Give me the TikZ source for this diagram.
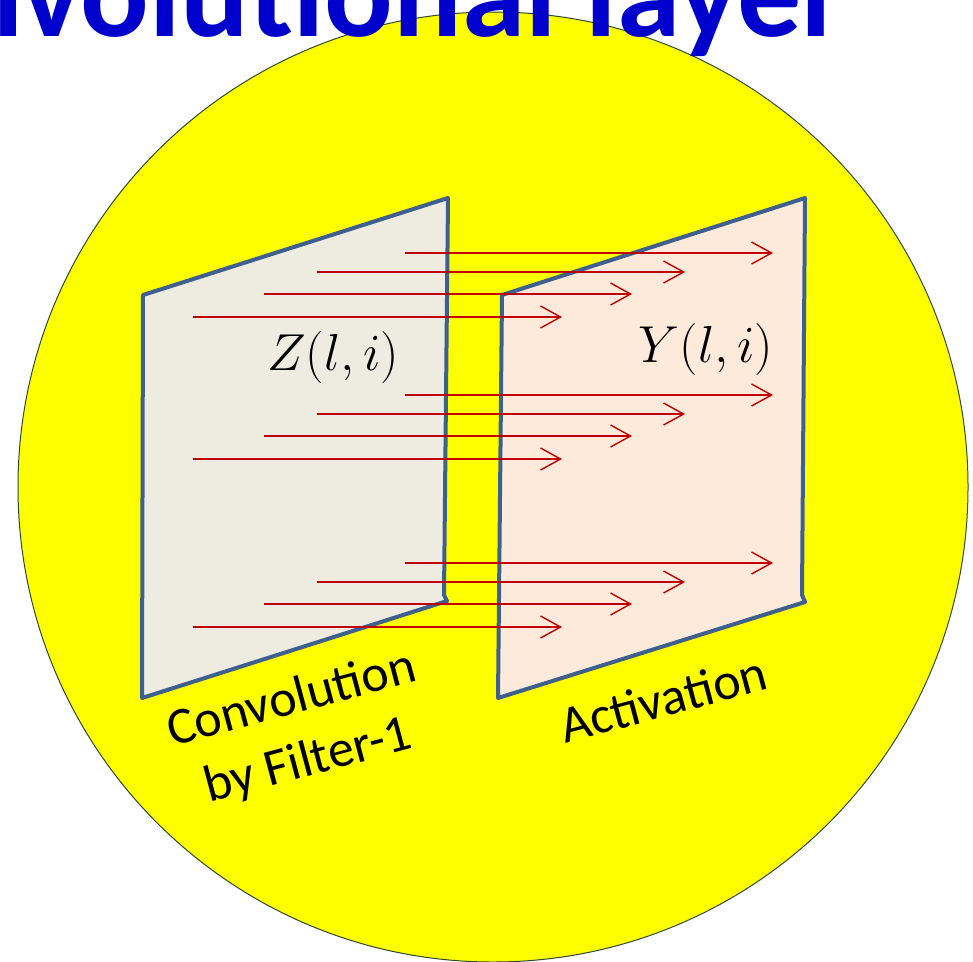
\RequirePackage{fix-cm}
\documentclass[tikz,border=0pt]{standalone}
\usepackage{fontspec}
\setmainfont{Carlito}
\usetikzlibrary{arrows.meta}
\definecolor{discclr}{RGB}{255,255,0}
\definecolor{rimclr}{RGB}{45,75,45}
\definecolor{titleclr}{RGB}{0,0,204}
\definecolor{edgeclr}{RGB}{62,96,142}
\definecolor{convclr}{RGB}{238,236,225}
\definecolor{actclr}{RGB}{253,234,218}
\definecolor{flowclr}{RGB}{192,0,0}

\begin{document}
\begin{tikzpicture}[
    x=1pt,
    y=-1pt,
    plane/.style={draw=edgeclr, line width=4pt, line join=round},
    flow/.style={draw=flowclr, line width=1.4pt, -{Straight Barb[length=20pt, width=22pt]}},
    maplabel/.style={inner sep=0pt, font=\fontsize{52}{60}\selectfont},
    caption/.style={inner sep=0pt, align=center, rotate=15, font=\fontsize{52}{64}\selectfont}
]
\useasboundingbox[fill=white] (0,0) rectangle (973,961);

% Disc.
\draw[draw=rimclr, fill=discclr, line width=1pt] (493,487) circle[radius=475];

% Title, cut by the page edge.
\node[inner sep=0pt, anchor=base east, text=titleclr, font=\fontsize{128}{140}\selectfont\bfseries] (title) at (847,36) {Convolutional layer};

% Feature planes.
\draw[plane, fill=convclr] (143,295) -- (448,198) -- (444,595) -- (447,601) -- (142,698) -- cycle;
\draw[plane, fill=actclr] (502,295) -- (805,198) -- (802,595) -- (805,602) -- (498,698) -- cycle;

\node[maplabel] (zmap) at (333,357) {$Z(l,i)$};
\node[maplabel] (ymap) at (706,349) {$Y(l,i)$};

% Element-wise flows.
\foreach \gy in {253,395,563} {
    \draw[flow] (405,\gy) -- (773,\gy);
    \draw[flow] (317,\gy+19) -- (685,\gy+19);
    \draw[flow] (264,\gy+41) -- (632,\gy+41);
    \draw[flow] (193,\gy+64) -- (562,\gy+64);
}

% Captions.
\node[caption] (convcap) at (300,731) {Convolution\\by Filter-1};
\node[caption] (actcap) at (663,699) {Activation};

\end{tikzpicture}
\end{document}
